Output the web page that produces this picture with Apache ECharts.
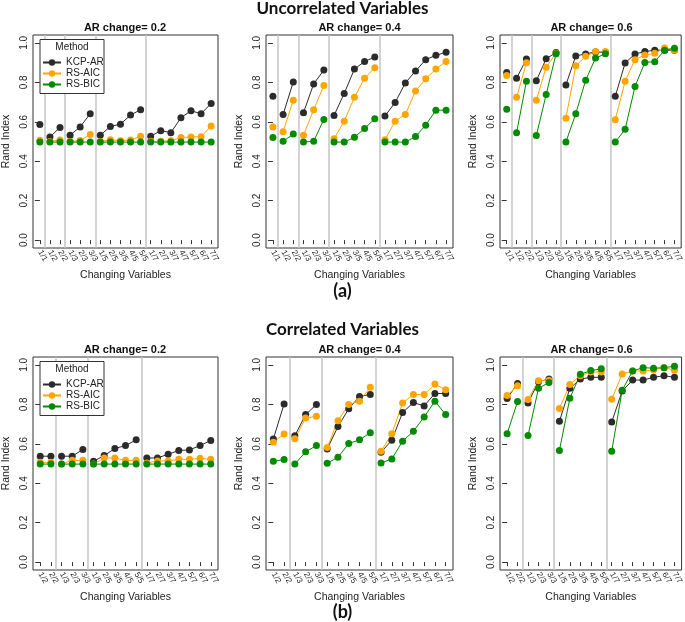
<!DOCTYPE html>
<html><head><meta charset="utf-8">
<script src="https://cdn.jsdelivr.net/npm/echarts@6/dist/echarts.min.js"></script>
<style>html,body{margin:0;padding:0;background:#fff}#c{width:685px;height:622px}</style>
</head><body><div id="c"></div>
<script>
// ---- categories / tick labels ----
const labelsTop = ['1/1','1/2','2/2','1/3','2/3','3/3','1/5','2/5','3/5','4/5','5/5','1/7','2/7','3/7','4/7','5/7','6/7','7/7'];
const groupsTop = [1,2,3,5,7];
const labelsBottom = ['1/2','2/2','1/3','2/3','3/3','1/5','2/5','3/5','4/5','5/5','1/7','2/7','3/7','4/7','5/7','6/7','7/7'];
const groupsBottom = [2,3,5,7];
const methods = ['KCP-AR','RS-AIC','RS-BIC'];
const panelTitles = ['AR change= 0.2','AR change= 0.4','AR change= 0.6'];

// ---- Uncorrelated variables ----
const unc02_KCP = [0.586,0.523,0.571,0.532,0.574,0.641,0.532,0.576,0.588,0.634,0.661,0.526,0.555,0.545,0.620,0.656,0.641,0.693];
const unc02_AIC = [0.506,0.500,0.508,0.500,0.505,0.535,0.500,0.509,0.504,0.508,0.526,0.501,0.501,0.504,0.520,0.523,0.524,0.579];
const unc02_BIC = [0.497,0.497,0.497,0.497,0.497,0.497,0.497,0.497,0.497,0.497,0.497,0.497,0.497,0.497,0.497,0.497,0.497,0.497];

const unc04_KCP = [0.729,0.637,0.802,0.646,0.792,0.862,0.632,0.744,0.867,0.906,0.928,0.629,0.698,0.797,0.857,0.915,0.937,0.952];
const unc04_AIC = [0.574,0.550,0.709,0.532,0.661,0.784,0.514,0.603,0.724,0.821,0.874,0.509,0.603,0.637,0.756,0.818,0.867,0.906];
const unc04_BIC = [0.520,0.501,0.538,0.497,0.501,0.612,0.497,0.497,0.521,0.566,0.615,0.497,0.497,0.497,0.525,0.583,0.659,0.659];

const unc06_KCP = [0.850,0.821,0.918,0.808,0.920,0.951,0.787,0.934,0.944,0.954,0.952,0.729,0.898,0.944,0.956,0.963,0.963,0.963];
const unc06_AIC = [0.835,0.724,0.899,0.709,0.877,0.947,0.618,0.884,0.932,0.956,0.956,0.610,0.806,0.915,0.939,0.947,0.974,0.964];
const unc06_BIC = [0.664,0.545,0.806,0.530,0.738,0.945,0.497,0.641,0.811,0.923,0.945,0.497,0.562,0.779,0.901,0.905,0.963,0.973];

// ---- Correlated variables ----
const cor02_KCP = [0.537,0.537,0.537,0.537,0.571,0.511,0.540,0.576,0.591,0.620,0.528,0.528,0.547,0.566,0.569,0.591,0.617];
const cor02_AIC = [0.506,0.506,0.497,0.516,0.516,0.497,0.528,0.528,0.516,0.516,0.503,0.513,0.513,0.521,0.521,0.526,0.521];
const cor02_BIC = [0.497,0.497,0.497,0.497,0.497,0.497,0.497,0.497,0.497,0.497,0.497,0.497,0.497,0.497,0.497,0.497,0.497];

const cor04_KCP = [0.624,0.802,0.641,0.748,0.799,0.574,0.687,0.777,0.840,0.850,0.557,0.618,0.758,0.809,0.792,0.855,0.855];
const cor04_AIC = [0.608,0.649,0.625,0.731,0.739,0.581,0.717,0.799,0.816,0.886,0.562,0.651,0.807,0.850,0.850,0.903,0.874];
const cor04_BIC = [0.511,0.520,0.497,0.559,0.591,0.501,0.532,0.601,0.620,0.656,0.503,0.523,0.613,0.663,0.736,0.816,0.748];

const cor06_KCP = [0.830,0.906,0.807,0.915,0.928,0.714,0.881,0.928,0.937,0.937,0.710,0.867,0.923,0.923,0.937,0.945,0.937];
const cor06_AIC = [0.845,0.894,0.825,0.920,0.922,0.779,0.901,0.945,0.964,0.964,0.826,0.954,0.969,0.969,0.974,0.986,0.973];
const cor06_BIC = [0.651,0.814,0.642,0.881,0.911,0.566,0.831,0.952,0.971,0.980,0.562,0.872,0.969,0.986,0.983,0.986,0.993];

const yTicks = [0,0.2,0.4,0.6,0.8,1.0];
const colors = {'KCP-AR':'#2b2b2b','RS-AIC':'#FFA500','RS-BIC':'#008B00'};

const panels = [
  {row:0,col:0,labels:labelsTop,groups:groupsTop,vals:[unc02_KCP,unc02_AIC,unc02_BIC]},
  {row:0,col:1,labels:labelsTop,groups:groupsTop,vals:[unc04_KCP,unc04_AIC,unc04_BIC]},
  {row:0,col:2,labels:labelsTop,groups:groupsTop,vals:[unc06_KCP,unc06_AIC,unc06_BIC]},
  {row:1,col:0,labels:labelsBottom,groups:groupsBottom,vals:[cor02_KCP,cor02_AIC,cor02_BIC]},
  {row:1,col:1,labels:labelsBottom,groups:groupsBottom,vals:[cor04_KCP,cor04_AIC,cor04_BIC]},
  {row:1,col:2,labels:labelsBottom,groups:groupsBottom,vals:[cor06_KCP,cor06_AIC,cor06_BIC]}
];

const colPos = [{left:32,width:186},{left:266,width:187},{left:500,width:183}];
const rowTop = [35,357];
const gridH = 213;
const FONT = '"Liberation Sans", Arial, sans-serif';
const TFONT = 'Lato, "Open Sans", sans-serif';

function buildData(vals, groups){
  const out=[]; let i=0;
  groups.forEach((g,gi)=>{
    for(let k=0;k<g;k++){ out.push([i, vals[i]]); i++; }
    if(gi<groups.length-1) out.push([i-0.5,'-']);
  });
  return out;
}
function separators(groups){
  const s=[]; let c=0;
  for(let gi=0;gi<groups.length-1;gi++){ c+=groups[gi]; s.push(c-0.5); }
  return s;
}

const grid=[], xAxis=[], yAxis=[], series=[], title=[];
panels.forEach((p,pi)=>{
  const n=p.labels.length;
  const idx=[...Array(n).keys()];
  grid.push({left:colPos[p.col].left, width:colPos[p.col].width, top:rowTop[p.row], height:gridH,
    show:true, borderColor:'#333', borderWidth:1, backgroundColor:'transparent'});
  xAxis.push({type:'value', gridIndex:pi, min:-0.68, max:n-1+0.68,
    name:'Changing Variables', nameLocation:'middle', nameGap:22,
    nameTextStyle:{fontFamily:FONT,fontSize:10.5,color:'#222'},
    axisLine:{show:false}, splitLine:{show:false},
    axisTick:{show:true, customValues:idx, length:4, lineStyle:{color:'#333'}},
    axisLabel:{show:true, customValues:idx, rotate:-60, margin:3, fontSize:8, fontFamily:FONT, color:'#222',
      formatter:(v)=>p.labels[Math.round(v)]}
  });
  yAxis.push({type:'value', gridIndex:pi, min:-0.04, max:1.04,
    name:'Rand Index', nameLocation:'middle', nameGap:21, nameRotate:90,
    nameTextStyle:{fontFamily:FONT,fontSize:10.5,color:'#222'},
    axisLine:{show:false}, splitLine:{show:false},
    axisTick:{show:true, customValues:yTicks, length:5, lineStyle:{color:'#333'}},
    axisLabel:{show:true, customValues:yTicks, rotate:90, margin:4, fontSize:10, fontFamily:FONT, color:'#222',
      formatter:(v)=>v.toFixed(1)}
  });
  methods.forEach((m,mi)=>{
    const s={type:'line', name:m, xAxisIndex:pi, yAxisIndex:pi,
      data:buildData(p.vals[mi], p.groups), connectNulls:false,
      symbol:'circle', symbolSize:7, showSymbol:true,
      itemStyle:{color:colors[m]}, lineStyle:{color:colors[m], width:1},
      animation:false, z:3};
    if(mi===0){
      s.markLine={silent:true, symbol:['none','none'], label:{show:false},
        lineStyle:{color:'#c4c4c4', width:1.5, type:'solid'}, z:1,
        data:separators(p.groups).map(v=>({xAxis:v}))};
    }
    series.push(s);
  });
  title.push({text:panelTitles[p.col], left:colPos[p.col].left+colPos[p.col].width/2, textAlign:'center',
    top:rowTop[p.row]-13, padding:0,
    textStyle:{fontFamily:FONT,fontSize:11,fontWeight:'bold',color:'#111'}});
});

title.push({text:'Uncorrelated Variables', left:'center', top:0, padding:0,
  textStyle:{fontFamily:TFONT,fontSize:17,fontWeight:'bold',color:'#111'}});
title.push({text:'(a)', left:'center', top:282, padding:0,
  textStyle:{fontFamily:TFONT,fontSize:18,fontWeight:'bold',color:'#111'}});
title.push({text:'Correlated Variables', left:'center', top:321, padding:0,
  textStyle:{fontFamily:TFONT,fontSize:17,fontWeight:'bold',color:'#111'}});
title.push({text:'(b)', left:'center', top:603, padding:0,
  textStyle:{fontFamily:TFONT,fontSize:18,fontWeight:'bold',color:'#111'}});

const legend=[], graphic=[];
rowTop.forEach((t,ri)=>{
  const off = t-35;
  graphic.push({type:'rect', shape:{x:40,y:39.5+off,width:64,height:54}, z:20,
    style:{fill:'#fff', stroke:'#333', lineWidth:1}});
  graphic.push({type:'text', x:72, y:47.5+off, z:21,
    style:{text:'Method', fill:'#222', font:'10px '+FONT, textAlign:'center', textVerticalAlign:'middle'}});
  legend.push({data:methods, orient:'vertical', left:42, top:57+off, padding:0, itemGap:0,
    itemWidth:18, itemHeight:8, itemGap:0, z:30, selectedMode:false,
    textStyle:{fontFamily:FONT,fontSize:10,color:'#222',lineHeight:11}});
});

const chart = echarts.init(document.getElementById('c'), null, {renderer:'canvas'});
chart.setOption({backgroundColor:'#fff', animation:false, title, grid, xAxis, yAxis, series, legend, graphic});
</script>
</body></html>
